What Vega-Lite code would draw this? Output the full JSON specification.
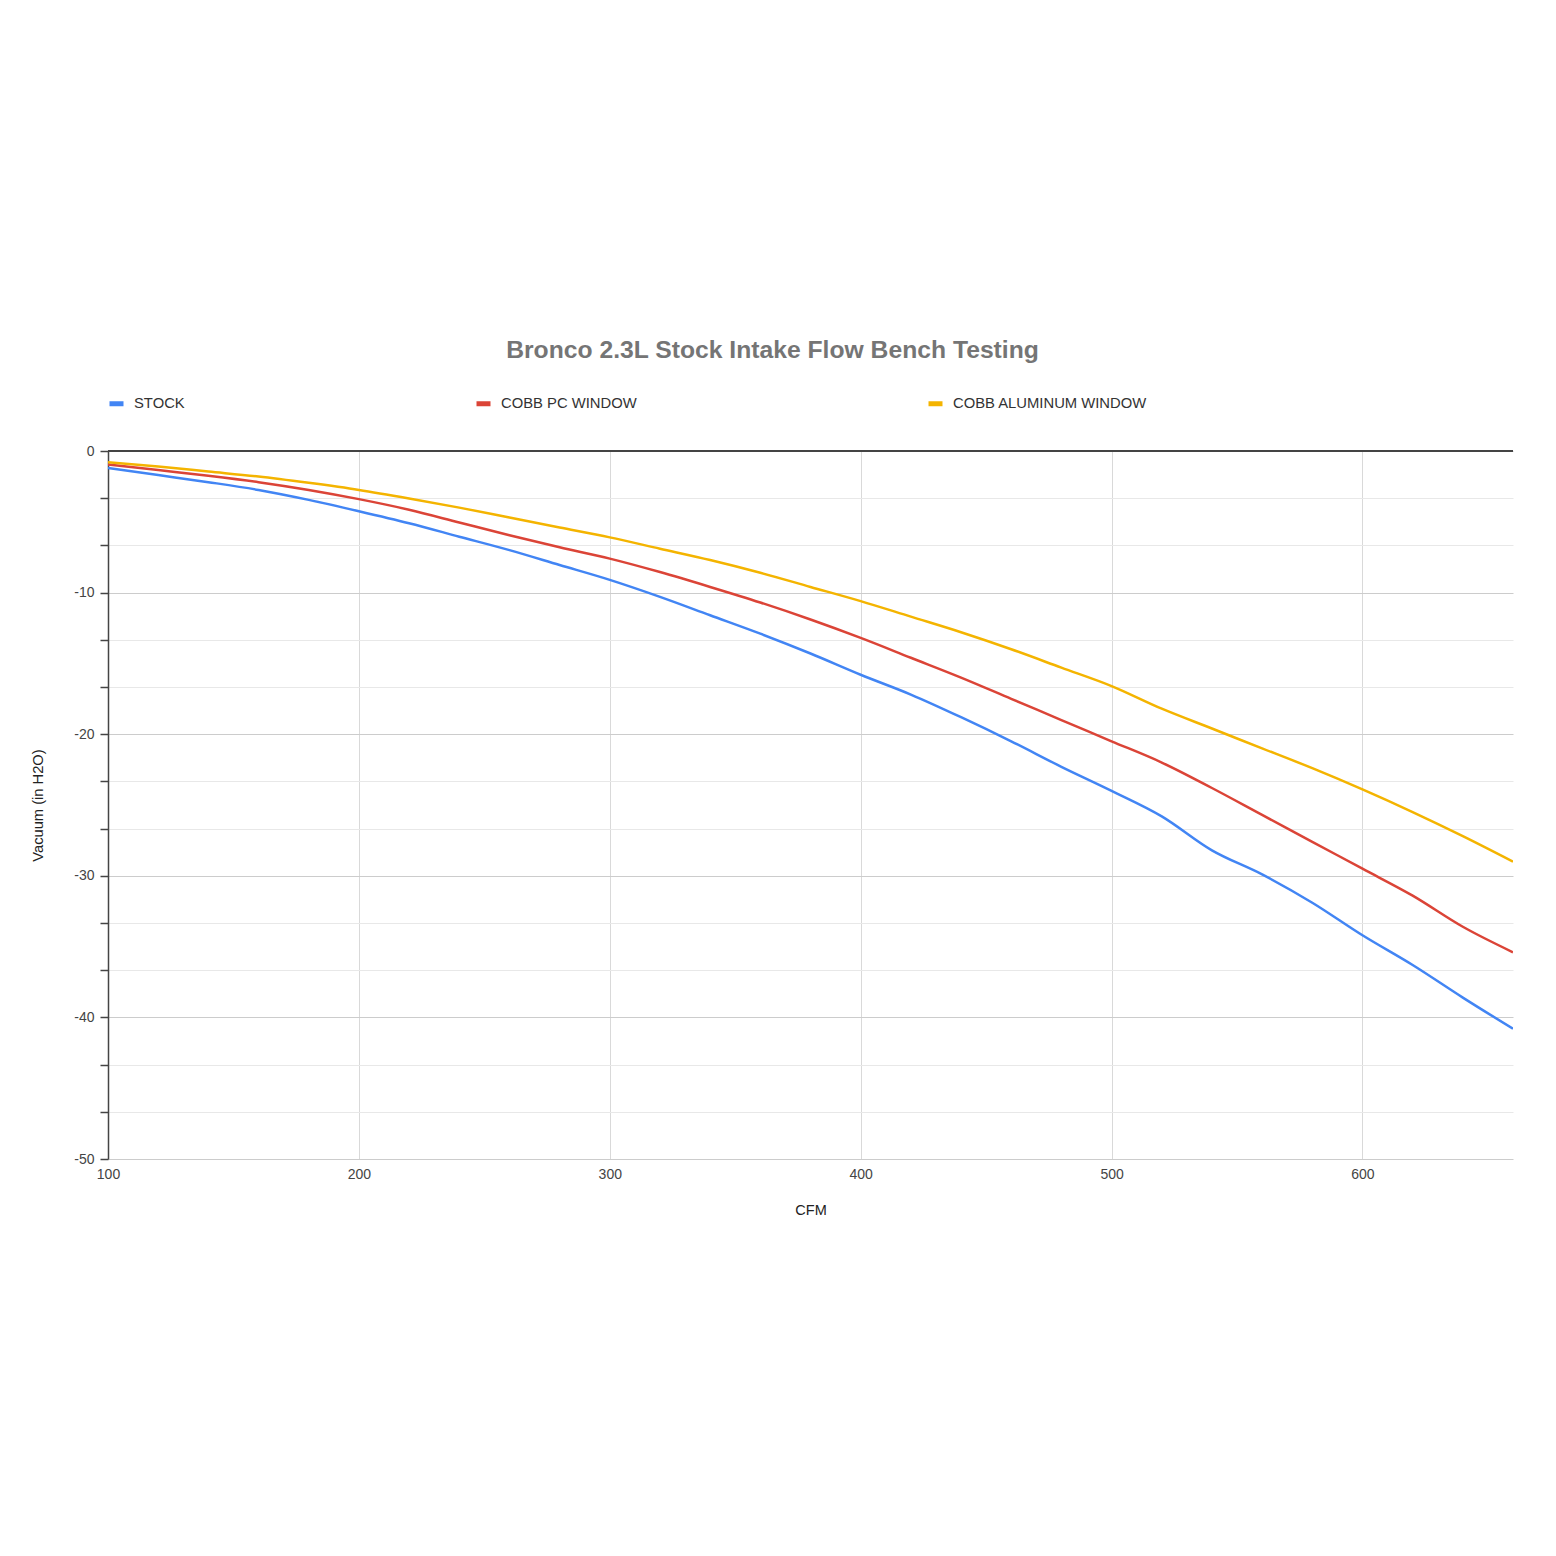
{
  "$schema": "https://vega.github.io/schema/vega-lite/v6.json",
  "width": 1405,
  "height": 708,
  "autosize": {"type": "none"},
  "padding": {"left": 108, "top": 451, "right": 43, "bottom": 397},
  "background": "white",
  "config": {"font": "Liberation Sans", "view": {"stroke": null}},
  "title": {"text": "Bronco 2.3L Stock Intake Flow Bench Testing", "fontSize": 24.7, "fontWeight": "bold", "color": "#757575", "anchor": "middle", "dx": -38, "offset": 31},
  "data": {"values": [
    {"cfm":100,"s":"STOCK","v":-1.2},{"cfm":120,"s":"STOCK","v":-1.7},{"cfm":140,"s":"STOCK","v":-2.2},{"cfm":160,"s":"STOCK","v":-2.75},{"cfm":180,"s":"STOCK","v":-3.45},{"cfm":200,"s":"STOCK","v":-4.25},{"cfm":220,"s":"STOCK","v":-5.1},{"cfm":240,"s":"STOCK","v":-6.05},{"cfm":260,"s":"STOCK","v":-7.0},{"cfm":280,"s":"STOCK","v":-8.05},{"cfm":300,"s":"STOCK","v":-9.1},{"cfm":320,"s":"STOCK","v":-10.3},{"cfm":340,"s":"STOCK","v":-11.6},{"cfm":360,"s":"STOCK","v":-12.9},{"cfm":380,"s":"STOCK","v":-14.3},{"cfm":400,"s":"STOCK","v":-15.8},{"cfm":420,"s":"STOCK","v":-17.2},{"cfm":440,"s":"STOCK","v":-18.8},{"cfm":460,"s":"STOCK","v":-20.5},{"cfm":480,"s":"STOCK","v":-22.3},{"cfm":500,"s":"STOCK","v":-24.0},{"cfm":520,"s":"STOCK","v":-25.8},{"cfm":540,"s":"STOCK","v":-28.2},{"cfm":560,"s":"STOCK","v":-29.9},{"cfm":580,"s":"STOCK","v":-31.9},{"cfm":600,"s":"STOCK","v":-34.2},{"cfm":620,"s":"STOCK","v":-36.3},{"cfm":640,"s":"STOCK","v":-38.6},{"cfm":660,"s":"STOCK","v":-40.8},
    {"cfm":100,"s":"COBB PC WINDOW","v":-0.95},{"cfm":120,"s":"COBB PC WINDOW","v":-1.35},{"cfm":140,"s":"COBB PC WINDOW","v":-1.75},{"cfm":160,"s":"COBB PC WINDOW","v":-2.2},{"cfm":180,"s":"COBB PC WINDOW","v":-2.75},{"cfm":200,"s":"COBB PC WINDOW","v":-3.4},{"cfm":220,"s":"COBB PC WINDOW","v":-4.15},{"cfm":240,"s":"COBB PC WINDOW","v":-5.05},{"cfm":260,"s":"COBB PC WINDOW","v":-5.95},{"cfm":280,"s":"COBB PC WINDOW","v":-6.8},{"cfm":300,"s":"COBB PC WINDOW","v":-7.6},{"cfm":320,"s":"COBB PC WINDOW","v":-8.55},{"cfm":340,"s":"COBB PC WINDOW","v":-9.6},{"cfm":360,"s":"COBB PC WINDOW","v":-10.7},{"cfm":380,"s":"COBB PC WINDOW","v":-11.9},{"cfm":400,"s":"COBB PC WINDOW","v":-13.2},{"cfm":420,"s":"COBB PC WINDOW","v":-14.6},{"cfm":440,"s":"COBB PC WINDOW","v":-16.0},{"cfm":460,"s":"COBB PC WINDOW","v":-17.5},{"cfm":480,"s":"COBB PC WINDOW","v":-19.0},{"cfm":500,"s":"COBB PC WINDOW","v":-20.5},{"cfm":520,"s":"COBB PC WINDOW","v":-22.0},{"cfm":540,"s":"COBB PC WINDOW","v":-23.8},{"cfm":560,"s":"COBB PC WINDOW","v":-25.7},{"cfm":580,"s":"COBB PC WINDOW","v":-27.6},{"cfm":600,"s":"COBB PC WINDOW","v":-29.5},{"cfm":620,"s":"COBB PC WINDOW","v":-31.4},{"cfm":640,"s":"COBB PC WINDOW","v":-33.6},{"cfm":660,"s":"COBB PC WINDOW","v":-35.4},
    {"cfm":100,"s":"COBB ALUMINUM WINDOW","v":-0.8},{"cfm":120,"s":"COBB ALUMINUM WINDOW","v":-1.1},{"cfm":140,"s":"COBB ALUMINUM WINDOW","v":-1.45},{"cfm":160,"s":"COBB ALUMINUM WINDOW","v":-1.8},{"cfm":180,"s":"COBB ALUMINUM WINDOW","v":-2.25},{"cfm":200,"s":"COBB ALUMINUM WINDOW","v":-2.75},{"cfm":220,"s":"COBB ALUMINUM WINDOW","v":-3.35},{"cfm":240,"s":"COBB ALUMINUM WINDOW","v":-4.0},{"cfm":260,"s":"COBB ALUMINUM WINDOW","v":-4.7},{"cfm":280,"s":"COBB ALUMINUM WINDOW","v":-5.4},{"cfm":300,"s":"COBB ALUMINUM WINDOW","v":-6.1},{"cfm":320,"s":"COBB ALUMINUM WINDOW","v":-6.9},{"cfm":340,"s":"COBB ALUMINUM WINDOW","v":-7.7},{"cfm":360,"s":"COBB ALUMINUM WINDOW","v":-8.6},{"cfm":380,"s":"COBB ALUMINUM WINDOW","v":-9.6},{"cfm":400,"s":"COBB ALUMINUM WINDOW","v":-10.6},{"cfm":420,"s":"COBB ALUMINUM WINDOW","v":-11.7},{"cfm":440,"s":"COBB ALUMINUM WINDOW","v":-12.8},{"cfm":460,"s":"COBB ALUMINUM WINDOW","v":-14.0},{"cfm":480,"s":"COBB ALUMINUM WINDOW","v":-15.3},{"cfm":500,"s":"COBB ALUMINUM WINDOW","v":-16.6},{"cfm":520,"s":"COBB ALUMINUM WINDOW","v":-18.2},{"cfm":540,"s":"COBB ALUMINUM WINDOW","v":-19.6},{"cfm":560,"s":"COBB ALUMINUM WINDOW","v":-21.0},{"cfm":580,"s":"COBB ALUMINUM WINDOW","v":-22.4},{"cfm":600,"s":"COBB ALUMINUM WINDOW","v":-23.9},{"cfm":620,"s":"COBB ALUMINUM WINDOW","v":-25.5},{"cfm":640,"s":"COBB ALUMINUM WINDOW","v":-27.2},{"cfm":660,"s":"COBB ALUMINUM WINDOW","v":-29.0}
  ]},
  "layer": [
    {
      "mark": {"type": "line", "strokeWidth": 2.5, "interpolate": "monotone", "clip": true},
      "encoding": {
        "x": {"field": "cfm", "type": "quantitative", "scale": {"domain": [100, 660], "nice": false, "zero": false},
          "axis": {"title": "CFM", "values": [100, 200, 300, 400, 500, 600], "grid": true, "gridColor": "#d9d9d9", "gridWidth": 1, "domain": false, "ticks": false, "labelFlush": false, "labelFontSize": 14, "labelColor": "#444444", "labelPadding": 8, "titleFontSize": 14.5, "titleFontWeight": "normal", "titleColor": "#222222", "titlePadding": 22}},
        "y": {"field": "v", "type": "quantitative", "scale": {"domain": [-50, 0], "nice": false, "zero": false},
          "axis": {"title": "Vacuum (in H2O)", "values": [0, -3.3333, -6.6667, -10, -13.3333, -16.6667, -20, -23.3333, -26.6667, -30, -33.3333, -36.6667, -40, -43.3333, -46.6667, -50],
            "labelExpr": "abs(datum.value % 10) < 0.01 ? '' + round(datum.value) : ''",
            "grid": true, "gridColor": {"condition": {"test": "abs(datum.value % 10) < 0.01", "value": "#cccccc"}, "value": "#e8e8e8"}, "gridWidth": 1,
            "domain": true, "domainColor": "#444444", "domainWidth": 1.5, "ticks": true, "tickColor": "#444444", "tickSize": 8, "tickWidth": 1.5,
            "labelFontSize": 14, "labelColor": "#444444", "labelPadding": 6, "titleFontSize": 14.7, "titleFontWeight": "normal", "titleColor": "#222222", "titlePadding": 28}},
        "color": {"field": "s", "type": "nominal",
          "scale": {"domain": ["STOCK", "COBB PC WINDOW", "COBB ALUMINUM WINDOW"], "range": ["#4285F4", "#DB4437", "#F4B400"]},
          "legend": {"title": null, "orient": "none", "direction": "horizontal", "legendX": -1, "legendY": -57, "symbolType": "stroke", "symbolSize": 196, "symbolStrokeWidth": 5, "labelFontSize": 14.8, "labelColor": "#333333", "labelOffset": 8, "labelLimit": 0, "columnPadding": 281}}
      }
    },
    {
      "mark": {"type": "rule", "color": "#444444", "strokeWidth": 1.5},
      "encoding": {"y": {"datum": 0}}
    }
  ]
}
